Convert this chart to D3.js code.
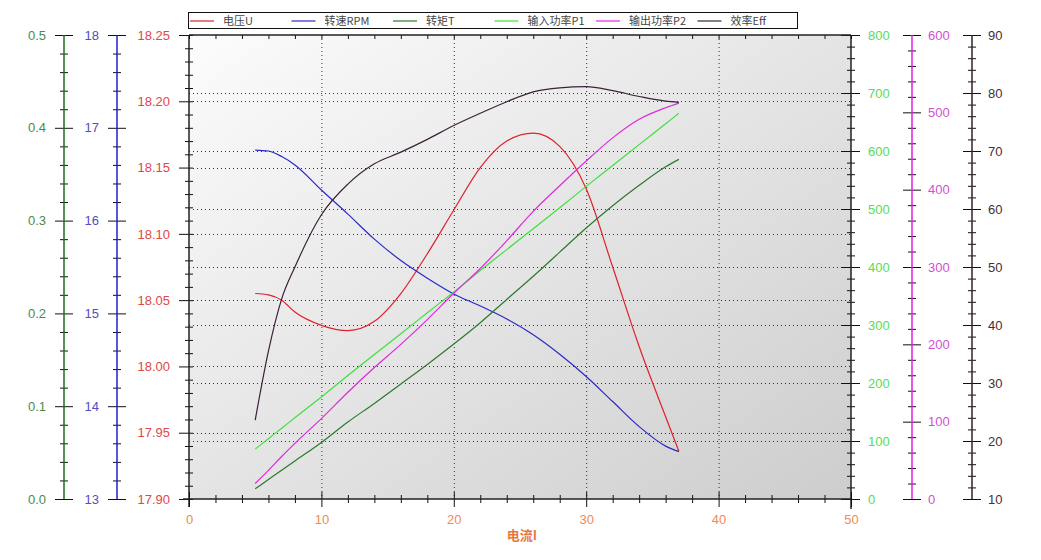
<!DOCTYPE html>
<html>
<head>
<meta charset="utf-8">
<script src="https://cdn.jsdelivr.net/npm/d3@7"></script>
<style>
  body { margin: 0; background: #fff; }
  svg text { font-family: "Liberation Sans", Arial, sans-serif; }
</style>
</head>
<body>
<svg id="chart" width="1041" height="560"></svg>
<script>
// Data (current I on x)
const current  = [5, 6, 7, 8, 10, 12, 14, 16, 18, 20, 22, 24, 26, 28, 30, 32, 34, 36, 37];
const voltage  = [18.055, 18.054, 18.050, 18.041, 18.031, 18.027, 18.034, 18.055, 18.085, 18.118, 18.150, 18.170, 18.176, 18.166, 18.134, 18.075, 18.015, 17.962, 17.936];
const speed    = [16.76, 16.75, 16.69, 16.60, 16.33, 16.07, 15.80, 15.57, 15.38, 15.21, 15.08, 14.94, 14.77, 14.56, 14.32, 14.05, 13.78, 13.57, 13.51];
const torque   = [0.011, 0.021, 0.031, 0.041, 0.061, 0.083, 0.103, 0.124, 0.145, 0.167, 0.190, 0.215, 0.240, 0.266, 0.292, 0.316, 0.338, 0.358, 0.366];
const powerIn  = [86, 104, 122, 140, 176, 213, 249, 285, 321, 357, 394, 430, 466, 502, 539, 575, 611, 647, 665];
const powerOut = [20, 37, 55, 72, 104, 138, 170, 200, 232, 266, 298, 334, 372, 405, 437, 467, 491, 506, 512];
const eff      = [23.6, 35.5, 44.5, 50.0, 59.0, 64.3, 67.8, 69.8, 72.0, 74.4, 76.5, 78.5, 80.2, 80.9, 81.1, 80.4, 79.4, 78.6, 78.4];

const legendNames = ["电压U", "转速RPM", "转矩T", "输入功率P1", "输出功率P2", "效率Eff"];

// tick labels
const xTicks   = [0, 10, 20, 30, 40, 50];
const uTicks   = [17.90, 17.95, 18.00, 18.05, 18.10, 18.15, 18.20, 18.25];
const tTicks   = [0.0, 0.1, 0.2, 0.3, 0.4, 0.5];
const rpmTicks = [13, 14, 15, 16, 17, 18];
const p1Ticks  = [0, 100, 200, 300, 400, 500, 600, 700, 800];
const p2Ticks  = [0, 100, 200, 300, 400, 500, 600];
const effTicks = [10, 20, 30, 40, 50, 60, 70, 80, 90];

const plotL = 189, plotR = 851, plotT = 35, plotB = 499;
const svg = d3.select("#chart");

const x    = d3.scaleLinear().domain([0, 50]).range([plotL, plotR]);
const yU   = d3.scaleLinear().domain([17.90, 18.25]).range([plotB, plotT]);
const yT   = d3.scaleLinear().domain([0, 0.5]).range([plotB, plotT]);
const yRpm = d3.scaleLinear().domain([13, 18]).range([plotB, plotT]);
const yP1  = d3.scaleLinear().domain([0, 800]).range([plotB, plotT]);
const yP2  = d3.scaleLinear().domain([0, 600]).range([plotB, plotT]);
const yEff = d3.scaleLinear().domain([10, 90]).range([plotB, plotT]);

// plot background gradient
const grad = svg.append("defs").append("linearGradient")
    .attr("id", "bg").attr("x1", 0).attr("y1", 0).attr("x2", 1).attr("y2", 1);
grad.append("stop").attr("offset", "0%").attr("stop-color", "#fcfcfc");
grad.append("stop").attr("offset", "100%").attr("stop-color", "#cdcdcd");

svg.append("rect")
    .attr("x", plotL).attr("y", plotT)
    .attr("width", plotR - plotL).attr("height", plotB - plotT)
    .attr("fill", "url(#bg)");

// dotted grid
const grid = svg.append("g").attr("stroke", "#333").attr("stroke-width", 1).attr("stroke-dasharray", "1,3");
grid.selectAll(".gx").data(xTicks.slice(1, -1)).enter().append("line")
    .attr("x1", d => x(d) + 0.5).attr("x2", d => x(d) + 0.5)
    .attr("y1", plotT).attr("y2", plotB);
grid.selectAll(".gu").data(uTicks.slice(1, -1)).enter().append("line")
    .attr("x1", plotL).attr("x2", plotR)
    .attr("y1", d => Math.round(yU(d)) + 0.5).attr("y2", d => Math.round(yU(d)) + 0.5);
grid.selectAll(".gp").data(p1Ticks.slice(1, -1)).enter().append("line")
    .attr("x1", plotL).attr("x2", plotR)
    .attr("y1", d => Math.round(yP1(d)) + 0.5).attr("y2", d => Math.round(yP1(d)) + 0.5);

// vertical axis helper: labels on one side, ticks on both
function vAxis(xPos, scale, majors, minorStep, side, opts) {
    const g = svg.append("g").attr("transform", `translate(${xPos},0)`);
    const d0 = scale.domain();
    const minors = d3.range(d0[0], d0[1] + minorStep / 2, minorStep)
        .filter(v => !majors.some(m => Math.abs(m - v) < minorStep / 10));
    const main = side === "left" ? d3.axisLeft : d3.axisRight;
    const other = side === "left" ? d3.axisRight : d3.axisLeft;
    g.append("g").call(main(scale).tickValues(majors).tickSize(opts.majorOut)
        .tickPadding(opts.pad).tickFormat(d3.format(opts.fmt)));
    g.append("g").call(other(scale).tickValues(majors).tickSize(opts.majorIn).tickFormat(""));
    g.append("g").call(main(scale).tickValues(minors).tickSize(opts.minor).tickFormat(""));
    g.append("g").call(other(scale).tickValues(minors).tickSize(opts.minor).tickFormat(""));
    g.selectAll(".domain").remove();
    g.selectAll(".tick line").attr("stroke", "#111");
    g.selectAll("text").attr("fill", opts.labelColor).attr("font-size", 13);
    g.append("line").attr("y1", plotT).attr("y2", plotB + (opts.ext || 0))
        .attr("stroke", opts.lineColor).attr("stroke-width", 1.5);
}

vAxis(64, yT, tTicks, 0.02, "left", {fmt: ".1f", majorOut: 9, majorIn: 9, minor: 4, pad: 9, labelColor: "#4c8a4c", lineColor: "#1d6b1d"});
vAxis(117, yRpm, rpmTicks, 0.2, "left", {fmt: "d", majorOut: 9, majorIn: 9, minor: 4, pad: 9, labelColor: "#5050c0", lineColor: "#1f1fd0"});
vAxis(plotL, yU, uTicks, 0.01, "left", {fmt: ".2f", majorOut: 10, majorIn: 4, minor: 4, pad: 9, labelColor: "#e04848", lineColor: "#222", ext: 8});
vAxis(plotR, yP1, p1Ticks, 20, "right", {fmt: "d", majorOut: 9, majorIn: 10, minor: 4, pad: 8, labelColor: "#55dd55", lineColor: "#222", ext: 10});
vAxis(912, yP2, p2Ticks, 20, "right", {fmt: "d", majorOut: 9, majorIn: 9, minor: 4, pad: 7, labelColor: "#d050d0", lineColor: "#e020e0"});
vAxis(972, yEff, effTicks, 2, "right", {fmt: "d", majorOut: 9, majorIn: 9, minor: 4, pad: 7, labelColor: "#403040", lineColor: "#302030"});

// x axis (bottom) and mirrored top border
const xMinors = d3.range(0, 51, 2).filter(v => v % 10 !== 0);
const xg = svg.append("g").attr("transform", `translate(0,${plotB})`);
xg.append("g").call(d3.axisBottom(x).tickValues(xTicks).tickSize(8).tickPadding(8).tickFormat(d3.format("d")));
xg.append("g").call(d3.axisTop(x).tickValues(xTicks).tickSize(7).tickFormat(""));
xg.append("g").call(d3.axisBottom(x).tickValues(xMinors).tickSize(4).tickFormat(""));
xg.append("g").call(d3.axisTop(x).tickValues(xMinors).tickSize(4).tickFormat(""));
xg.selectAll(".domain").remove();
xg.selectAll(".tick line").attr("stroke", "#111");
xg.selectAll("text").attr("fill", "#f08a58").attr("font-size", 13);
xg.append("line").attr("x1", plotL - 6).attr("x2", plotR).attr("stroke", "#222").attr("stroke-width", 1.5);

const tg = svg.append("g").attr("transform", `translate(0,${plotT})`);
tg.append("g").call(d3.axisBottom(x).tickValues(xMinors.concat(xTicks)).tickSize(4).tickFormat(""));
tg.selectAll(".domain").remove();
tg.selectAll(".tick line").attr("stroke", "#111");
tg.append("line").attr("x1", plotL).attr("x2", plotR).attr("stroke", "#222").attr("stroke-width", 1.5);

svg.append("text")
    .attr("x", 522).attr("y", 540)
    .attr("text-anchor", "middle")
    .attr("font-size", 13).attr("font-weight", "bold")
    .attr("fill", "#e8783c")
    .style("font-family", "'Noto Sans CJK SC', sans-serif")
    .text("电流I");

// curves
const series = [
    {values: voltage,  scale: yU,   color: "#e0202c"},
    {values: speed,    scale: yRpm, color: "#2a2ac8"},
    {values: torque,   scale: yT,   color: "#2a7a2a"},
    {values: powerIn,  scale: yP1,  color: "#3ee03e"},
    {values: powerOut, scale: yP2,  color: "#e028e0"},
    {values: eff,      scale: yEff, color: "#3a2238"}
];

series.forEach(s => {
    const line = d3.line()
        .x((d, i) => x(current[i]))
        .y(d => s.scale(d))
        .curve(d3.curveMonotoneX);
    svg.append("path")
        .datum(s.values)
        .attr("fill", "none")
        .attr("stroke", s.color)
        .attr("stroke-width", 1.2)
        .attr("d", line);
});

// legend
const legend = svg.append("g");
legend.append("rect")
    .attr("x", 188.5).attr("y", 12.5).attr("width", 609).attr("height", 16)
    .attr("fill", "#fff").attr("stroke", "#111");
const items = legend.selectAll(".item").data(legendNames).enter().append("g")
    .attr("transform", (d, i) => `translate(${190 + i * 101.5},21)`);
items.append("line").attr("x1", 0).attr("x2", 24)
    .attr("stroke", (d, i) => series[i].color).attr("stroke-width", 1.2);
items.append("text").attr("x", 33).attr("y", 4)
    .attr("font-size", 11).attr("fill", "#444")
    .style("font-family", "'Noto Sans CJK SC', sans-serif")
    .text(d => d);
</script>
</body>
</html>
